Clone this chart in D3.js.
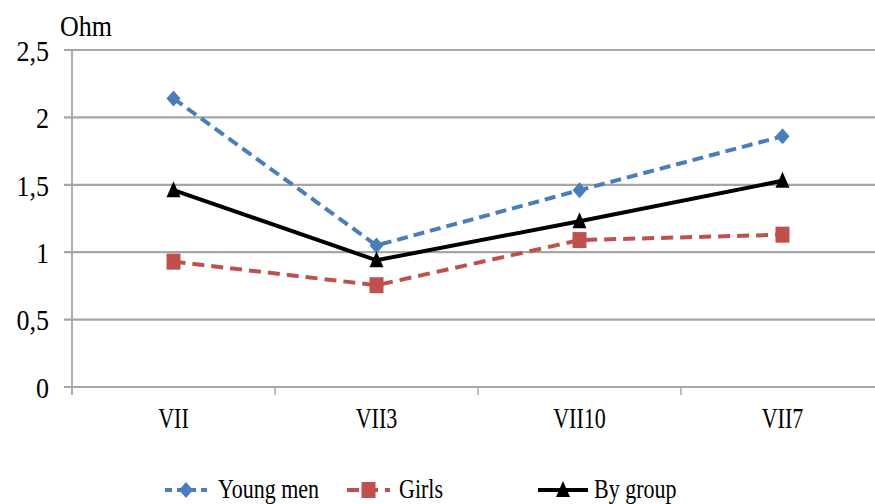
<!DOCTYPE html>
<html><head><meta charset="utf-8">
<script src="https://cdn.jsdelivr.net/npm/d3@7"></script>
<style>
html,body{margin:0;padding:0;background:#fff;}
</style></head>
<body>
<svg id="c" width="875" height="504"></svg>
<script>
const categories = ["VII", "VII3", "VII10", "VII7"];
const youngMen = [2.14, 1.05, 1.46, 1.86];
const girls = [0.93, 0.755, 1.09, 1.13];
const byGroup = [1.46, 0.94, 1.23, 1.53];
const yTicks = [0, 0.5, 1, 1.5, 2, 2.5];
const yTickLabels = ["0", "0,5", "1", "1,5", "2", "2,5"];
const seriesNames = ["Young men", "Girls", "By group"];
const unitLabel = "Ohm";

const FONT = "Liberation Serif";
const svg = d3.select("#c");
const x = d3.scaleBand().domain(categories).range([72, 884]).padding(0);
const y = d3.scaleLinear().domain([0, 2.5]).range([387, 50]);
const cx = c => x(c) + x.bandwidth() / 2;
const grid = "#a6a6a6";

svg.append("g").selectAll("line").data(yTicks).join("line")
  .attr("x1", 64).attr("x2", 875)
  .attr("y1", d => y(d)).attr("y2", d => y(d))
  .attr("stroke", grid).attr("stroke-width", 2.2);
svg.append("line").attr("x1", 72).attr("x2", 72).attr("y1", y(2.5)).attr("y2", y(0) + 8)
  .attr("stroke", grid).attr("stroke-width", 1.8);
svg.append("g").selectAll("line").data(categories.slice(1)).join("line")
  .attr("x1", d => x(d)).attr("x2", d => x(d))
  .attr("y1", y(0)).attr("y2", y(0) + 8)
  .attr("stroke", grid).attr("stroke-width", 1.5);

function stretchedText(g, str, tx, ty, size, sy, anchor) {
  return g.append("text")
    .attr("transform", `translate(${tx},${ty}) scale(1,${sy})`)
    .attr("font-family", FONT)
    .attr("font-size", size).attr("text-anchor", anchor)
    .attr("dy", "0.33em")
    .attr("fill", "#000")
    .text(str);
}
yTicks.forEach((t, i) => stretchedText(svg, yTickLabels[i], 49, y(t) + 1, 26, 1.15, "end"));
categories.forEach(c => stretchedText(svg, c, cx(c), 418, 22, 1.35, "middle"));
stretchedText(svg, unitLabel, 60, 27, 26, 1.1, "start");

const series = [
  {name: seriesNames[0], vals: youngMen, color: "#4a7ebb", dash: "11,6", marker: "diamond", w: 4},
  {name: seriesNames[1], vals: girls, color: "#c0504d", dash: "12,7", marker: "square", w: 4},
  {name: seriesNames[2], vals: byGroup, color: "#000", dash: null, marker: "triangle", w: 4}
];
const line = d3.line().x((d, i) => cx(categories[i])).y(d => y(d));

function drawMarker(g, type, px, py, color) {
  if (type === "diamond") {
    g.append("path").attr("d", `M${px},${py-8}L${px+7},${py}L${px},${py+8}L${px-7},${py}Z`).attr("fill", color);
  } else if (type === "square") {
    g.append("rect").attr("x", px - 7).attr("y", py - 8).attr("width", 14).attr("height", 16).attr("fill", color);
  } else {
    g.append("path").attr("d", `M${px},${py-9}L${px+7},${py+7}L${px-7},${py+7}Z`).attr("fill", color);
  }
}

series.forEach(s => {
  const g = svg.append("g");
  g.append("path").datum(s.vals).attr("d", line)
    .attr("fill", "none").attr("stroke", s.color).attr("stroke-width", s.w)
    .attr("stroke-dasharray", s.dash);
  s.vals.forEach((v, i) => drawMarker(g, s.marker, cx(categories[i]), y(v), s.color));
});

const legendX = [165, 347, 538];
const legendTextX = [218, 399, 594];
const legendW = [42, 43, 50];
series.forEach((s, i) => {
  const g = svg.append("g");
  const ly = 490;
  g.append("line").attr("x1", legendX[i]).attr("x2", legendX[i] + legendW[i])
    .attr("y1", ly).attr("y2", ly).attr("stroke", s.color).attr("stroke-width", 4)
    .attr("stroke-dasharray", s.dash ? (i === 0 ? "7,5" : "12,7") : null);
  drawMarker(g, s.marker, legendX[i] + legendW[i] / 2, ly, s.color);
  stretchedText(g, s.name, legendTextX[i], ly - 1, 22, 1.2, "start");
});
</script>
</body></html>
